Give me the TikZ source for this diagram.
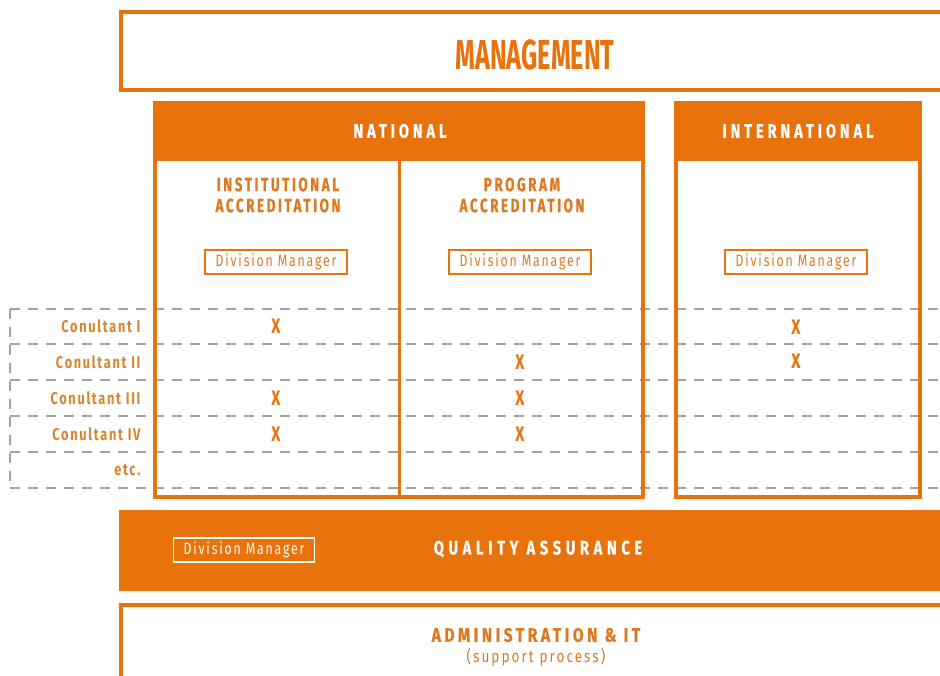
\documentclass[tikz,border=0pt]{standalone}
\usepackage{fontspec}
\setmainfont{Fira Sans}
\newfontfamily\ttlfont[FakeStretch=0.6]{Fira Sans}
\newfontfamily\hdrfont[FakeStretch=0.75,LetterSpace=20,FakeBold=0.5]{Fira Sans}
\newfontfamily\qafont[FakeStretch=0.75,LetterSpace=24,FakeBold=0.5]{Fira Sans}
\newfontfamily\subfont[FakeStretch=0.7,LetterSpace=13,FakeBold=0.5]{Fira Sans}
\newfontfamily\mgrfont[FakeStretch=0.75,LetterSpace=11]{Fira Sans}
\newfontfamily\rowfont[FakeStretch=0.75,LetterSpace=10]{Fira Sans}
\newfontfamily\admfont[FakeStretch=0.8,LetterSpace=18,FakeBold=0.5]{Fira Sans}
\newfontfamily\supfont[FakeStretch=0.8,LetterSpace=12]{Fira Sans}
\newfontfamily\xfont[FakeStretch=0.75]{Fira Sans}
\definecolor{brand}{HTML}{E8720C}
\definecolor{brandtext}{HTML}{DC7A22}
\definecolor{rowtext}{HTML}{D9852F}
\definecolor{rowgray}{HTML}{A3A3A3}
\begin{document}
\begin{tikzpicture}[x=1pt,y=-1pt,
  frame/.style={draw=brand, line width=4pt, inner sep=0pt, anchor=north west},
  band/.style={fill=brand, draw=brand, line width=1pt, inner sep=0pt, anchor=north west},
  title/.style={text=brand, font=\ttlfont\bfseries\fontsize{42}{44}\selectfont},
  head/.style={text=white, font=\hdrfont\bfseries\fontsize{19.5}{21}\selectfont},
  sub/.style={text=brandtext, font=\subfont\bfseries\fontsize{19.3}{21}\selectfont, align=center},
  mgr/.style={draw=brand, line width=1.3pt, text=brandtext, inner sep=0pt,
    minimum width=142pt, minimum height=24pt, font=\mgrfont\fontsize{16.4}{18}\selectfont},
  mgrw/.style={mgr, draw=white, text=white},
  rowlab/.style={text=rowtext, anchor=east, font=\rowfont\bfseries\fontsize{17}{19}\selectfont},
  xmark/.style={text=brand, font=\xfont\bfseries\fontsize{21}{23}\selectfont},
  rowline/.style={draw=rowgray, line width=1.2pt, dash pattern=on 10pt off 8pt},
]
\useasboundingbox (0,0) rectangle (940,675);
\clip (0,0) rectangle (940,675);
\fill[white] (0,0) rectangle (940,675);

% consultant rows (dashed grid behind the columns)
\foreach \y/\n in {309/r0,344/r1,380/r2,416/r3,452/r4,488/r5}{
  \coordinate (\n w) at (10,\y);
  \coordinate (\n e) at (945,\y);
  \draw[rowline] (\n w) -- (\n e);
}
\draw[rowline] (r0w) -- (r5w);

% management
\node[frame, minimum width=850pt, minimum height=78pt] (mgmt) at (119,10) {};
\node[title] (mgmttxt) at (535,55) {MANAGEMENT};

% national column
\node[band, minimum width=488pt, minimum height=59pt] (nathead) at (153,101) {};
\node[head] (nattxt) at (400,131) {NATIONAL};
\node[frame, minimum width=488pt, minimum height=394pt] (nat) at (153,101) {};
\coordinate (divtop) at (399,160);
\coordinate (divbot) at (399,495);
\draw[brand, line width=3pt] (divtop) -- (divbot);

% international column
\node[band, minimum width=244pt, minimum height=59pt] (inthead) at (674,101) {};
\node[head] (inttxt) at (798,131) {INTERNATIONAL};
\node[frame, minimum width=244pt, minimum height=394pt] (int) at (674,101) {};

% divisions
\node[sub] (inst) at (278,195) {INSTITUTIONAL\\ACCREDITATION};
\node[sub] (prog) at (522,195) {PROGRAM\\ACCREDITATION};
\node[mgr] (m1) at (276,262) {Division Manager};
\node[mgr] (m2) at (520,262) {Division Manager};
\node[mgr] (m3) at (796,262) {Division Manager};

% consultants
\node[rowlab] (c1) at (144,326) {Conultant I};
\node[rowlab] (c2) at (144,362) {Conultant II};
\node[rowlab] (c3) at (144,398) {Conultant III};
\node[rowlab] (c4) at (144,434) {Conultant IV};
\node[rowlab] (c5) at (144,470) {etc.};

% assignments
\node[xmark] (x11) at (276,326) {X};
\node[xmark] (x13) at (796,327) {X};
\node[xmark] (x22) at (520,362) {X};
\node[xmark] (x23) at (796,361) {X};
\node[xmark] (x31) at (276,398) {X};
\node[xmark] (x32) at (520,398) {X};
\node[xmark] (x41) at (276,434) {X};
\node[xmark] (x42) at (520,434) {X};

% quality assurance
\node[band, minimum width=850pt, minimum height=80pt] (qa) at (119,510) {};
\node[head, font=\qafont\bfseries\fontsize{19.5}{21}\selectfont] (qatxt) at (538,549) {QUALITY ASSURANCE};
\node[mgrw, minimum width=141pt] (m4) at (244,550) {Division Manager};

% administration
\node[frame, minimum width=850pt, minimum height=120pt] (adm) at (119,603) {};
\node[text=brandtext, font=\admfont\bfseries\fontsize{19.5}{21}\selectfont] (admtxt) at (536,635) {ADMINISTRATION \& IT};
\node[text=brandtext, font=\supfont\fontsize{17}{19}\selectfont] (admsub) at (536,657) {(support process)};
\end{tikzpicture}
\end{document}
